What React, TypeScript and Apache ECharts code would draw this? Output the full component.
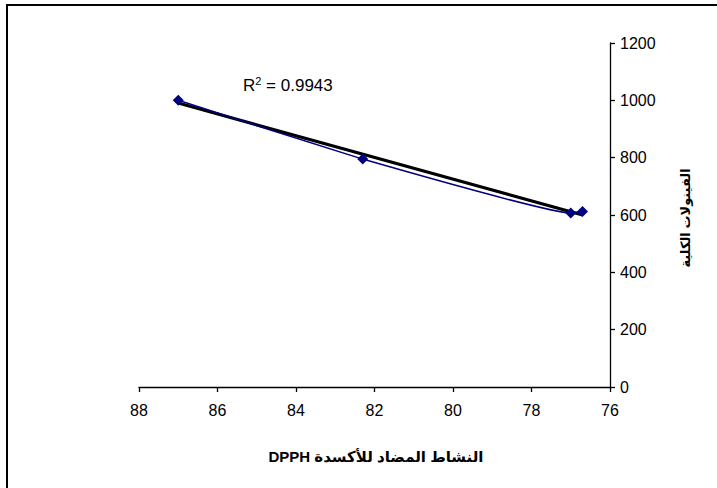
import React, { useEffect, useRef } from "react";
import * as echarts from "echarts";

// Data
const dpph: number[] = [87.0, 82.3, 77.0, 76.7];
const phenols: number[] = [1000, 795, 607, 612];
const xTickMin = 76;
const xTickMax = 88;
const yTickMin = 0;
const yTickMax = 1200;
const xAxisTitle = "النشاط المضاد للأكسدة DPPH";
const yAxisTitle = "الفينولات الكلية";
const r2Text = "0.9943";

const FONT = "'Liberation Sans', Arial, 'DejaVu Sans', sans-serif";

function linearFit(xs: number[], ys: number[]) {
  const n = xs.length;
  const mx = xs.reduce((a, b) => a + b, 0) / n;
  const my = ys.reduce((a, b) => a + b, 0) / n;
  let sxy = 0;
  let sxx = 0;
  for (let i = 0; i < n; i++) {
    sxy += (xs[i] - mx) * (ys[i] - my);
    sxx += (xs[i] - mx) * (xs[i] - mx);
  }
  const slope = sxy / sxx;
  const intercept = my - slope * mx;
  return { slope, intercept };
}

export default function App() {
  const ref = useRef<HTMLDivElement>(null);

  useEffect(() => {
    if (!ref.current) return;
    const chart = echarts.init(ref.current, undefined, { renderer: "svg" });
    const { slope, intercept } = linearFit(dpph, phenols);
    const xMin = Math.min(...dpph);
    const xMax = Math.max(...dpph);
    const trend = [
      [xMax, slope * xMax + intercept],
      [xMin, slope * xMin + intercept],
    ];
    const pts = dpph.map((x, i) => [x, phenols[i]]);

    chart.setOption({
      animation: false,
      backgroundColor: "#ffffff",
      grid: { left: 139, right: 107, top: 43, bottom: 101, containLabel: false },
      xAxis: {
        type: "value",
        min: xTickMin,
        max: xTickMax,
        interval: 2,
        inverse: true,
        position: "bottom",
        axisLine: { show: true, onZero: false, lineStyle: { color: "#000", width: 1.3 } },
        axisTick: { show: true, length: 5, inside: false, lineStyle: { color: "#000", width: 1.3 } },
        axisLabel: { color: "#000", fontFamily: FONT, fontSize: 16, margin: 15 },
        splitLine: { show: false },
      },
      yAxis: {
        type: "value",
        min: yTickMin,
        max: yTickMax,
        interval: 200,
        position: "right",
        axisLine: { show: true, onZero: false, lineStyle: { color: "#000", width: 1.3 } },
        axisTick: { show: true, length: 5, inside: false, lineStyle: { color: "#000", width: 1.3 } },
        axisLabel: {
          color: "#000",
          fontFamily: FONT,
          fontSize: 16,
          margin: 10,
          formatter: (v: number) => String(v),
        },
        splitLine: { show: false },
      },
      series: [
        {
          type: "line",
          data: trend,
          symbol: "none",
          lineStyle: { color: "#000", width: 3.2 },
          z: 2,
        },
        {
          type: "line",
          data: pts,
          smooth: 0.1,
          symbol: "diamond",
          symbolSize: 11,
          itemStyle: { color: "#000080" },
          lineStyle: { color: "#000080", width: 1.5 },
          z: 3,
        },
      ],
      graphic: [
        {
          type: "rect",
          shape: { x: 7, y: 5, width: 760, height: 540 },
          style: { fill: "none", stroke: "#000", lineWidth: 2 },
          z: 10,
        },
        {
          type: "text",
          x: 243,
          y: 85,
          style: {
            text: "{a|R}{s|2}{a| = " + r2Text + "}",
            rich: {
              a: { fontFamily: FONT, fontSize: 17, fill: "#000" },
              s: { fontFamily: FONT, fontSize: 11, fill: "#000", verticalAlign: "top", padding: [0, 0, 8, 0] },
            },
            verticalAlign: "middle",
            align: "left",
          },
          z: 10,
        },
        {
          type: "text",
          x: 376,
          y: 456,
          style: {
            text: "\u202B" + xAxisTitle + "\u202C",
            fontFamily: FONT,
            fontSize: 15,
            fontWeight: "bold",
            fill: "#000",
            align: "center",
            verticalAlign: "middle",
          },
          z: 10,
        },
        {
          type: "text",
          x: 685,
          y: 218,
          rotation: Math.PI / 2,
          style: {
            text: yAxisTitle,
            fontFamily: FONT,
            fontSize: 13,
            fontWeight: "bold",
            fill: "#000",
            align: "center",
            verticalAlign: "middle",
          },
          z: 10,
        },
      ],
    });
    return () => chart.dispose();
  }, []);

  return (
    <div
      ref={ref}
      style={{ position: "fixed", left: 0, top: 0, width: 717, height: 488 }}
    />
  );
}
